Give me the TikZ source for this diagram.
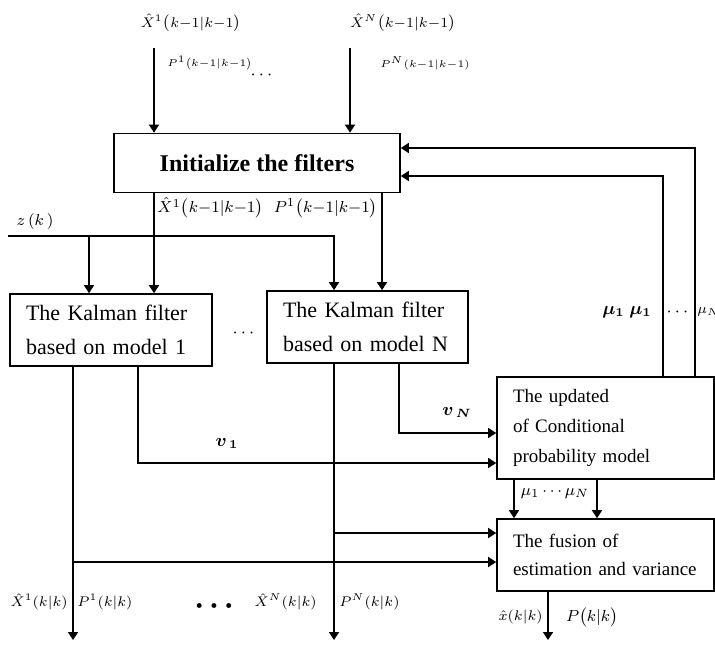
\documentclass[tikz,border=0pt]{standalone}
\usepackage{fontspec}
\setmainfont{Liberation Serif}
\usepackage{amsmath}
\usepackage{bm}
\usepackage{tikz}
\usetikzlibrary{arrows.meta, positioning, calc}
\tikzset{
	blk/.style ={rectangle, draw=black, line width=0.8pt, align=left, inner xsep=8pt, inner ysep=0pt},
	kblk/.style={blk, minimum height=36pt, font=\fontsize{11}{17}\selectfont},
	rblk/.style={blk, text width=92.5pt, font=\fontsize{9.5}{15}\selectfont},
	sig/.style ={-{Triangle[length=4pt, width=5pt]}, line width=0.8pt},
	lab/.style ={font=\scriptsize, inner sep=1pt},
}

\begin{document}
\begin{tikzpicture}[x=0.5pt, y=-0.5pt]
	\useasboundingbox (0,0) rectangle (715,647);
	% blocks
	\node[blk, align=center, minimum width=143pt, minimum height=29.5pt, font=\fontsize{12}{14}\selectfont\bfseries] (init) at (257,163) {Initialize the filters};
	\node[kblk, text width=85pt] (k1) at (111,330) {The Kalman filter\\ based on model 1};
	\node[kblk, text width=84.5pt] (kN) at (367.5,327) {The Kalman filter\\ based on model N};
	\node[rblk, minimum height=51pt] (upd) at (605.5,428) {The updated\\ of Conditional\\ probability model};
	\node[rblk, minimum height=36pt, font=\fontsize{9.5}{14}\selectfont] (fus) at (605.5,555) {The fusion of\\ estimation and variance};
	% points for the wires
	\coordinate (t1) at (154,48);
	\coordinate (tN) at (350,48);
	\coordinate (ib) at (382,0);
	\coordinate (fbo) at (695,148);
	\coordinate (fbi) at (663,176);
	\coordinate (zin) at (8,236);
	\coordinate (za) at (89,236);
	\coordinate (zb) at (334,236);
	\coordinate (o1) at (73,640);
	\coordinate (oN) at (334,640);
	\coordinate (oF) at (548,640);
	\coordinate (v1) at (138,463);
	\coordinate (vN) at (399,433);
	\coordinate (fa) at (334,533);
	\coordinate (fb) at (73,562);
	\coordinate (m1) at (514,0);
	\coordinate (mN) at (597,0);
	% wires
	\draw[sig] (t1) -- (t1 |- init.north);
	\draw[sig] (tN) -- (tN |- init.north);
	\draw[sig] (fbo |- upd.north) -- (fbo) -- (fbo -| init.east);
	\draw[sig] (fbi |- upd.north) -- (fbi) -- (fbi -| init.east);
	\draw[sig] (zin) -- (zb) -- (zb |- kN.north);
	\draw[sig] (za) -- (za |- k1.north);
	\draw[sig] (init.south -| t1) -- (t1 |- k1.north);
	\draw[sig] (init.south -| ib) -- (ib |- kN.north);
	\draw[sig] (o1 |- k1.south) -- (o1);
	\draw[sig] (oN |- kN.south) -- (oN);
	\draw[sig] (v1 |- k1.south) -- (v1) -- (v1 -| upd.west);
	\draw[sig] (vN |- kN.south) -- (vN) -- (vN -| upd.west);
	\draw[sig] (fa) -- (fa -| fus.west);
	\draw[sig] (fb) -- (fb -| fus.west);
	\draw[sig] (upd.south -| m1) -- (m1 |- fus.north);
	\draw[sig] (upd.south -| mN) -- (mN |- fus.north);
	\draw[sig] (fus.south -| oF) -- (oF);
	% labels
	\node[lab] (x1in) at (191,23) {$\hat{X}^{1}\bigl(k{-}1|k{-}1\bigr)$};
	\node[lab, font=\tiny, anchor=west] (p1in) at (165,63) {$P^{1}\bigl(k{-}1|k{-}1\bigr)$};
	\node[lab, font=\small] (tdots) at (263,75) {$\cdots$};
	\node[lab] (xNin) at (403,23) {$\hat{X}^{N}\bigl(k{-}1|k{-}1\bigr)$};
	\node[lab, font=\tiny] (pNin) at (425,63) {$P^{N}(k{-}1|k{-}1)$};
	\node[lab, font=\footnotesize, anchor=west] (xi1) at (155,208) {$\hat{X}^{1}\bigl(k{-}1|k{-}1\bigr)$};
	\node[lab, font=\footnotesize, anchor=east] (pi1) at (380,208) {$P^{1}\bigl(k{-}1|k{-}1\bigr)$};
	\node[lab, font=\footnotesize] (zk) at (35,221) {$z\,(k\,)$};
	\node[lab, font=\small] (kdots) at (245,333) {$\cdots$};
	\node[lab, font=\small\boldmath] (muA) at (627,312) {$\mu_1\ \mu_1$};
	\node[lab, font=\small] (mudots) at (679,312) {$\cdots$};
	\node[lab, anchor=west, inner sep=0pt] (muB) at (697,312) {$\mu_N$};
	\node[lab, font=\small\boldmath] (v1lab) at (227,443) {$v_{\,1}$};
	\node[lab, font=\small\boldmath] (vNlab) at (457,412) {$v_{\,N}$};
	\node[lab, font=\footnotesize] (mulab) at (555,493) {$\mu_1\cdots\mu_N$};
	\node[lab, anchor=east] (x1out) at (70,602) {$\hat{X}^{1}(k|k)$};
	\node[lab, anchor=west] (p1out) at (75,602) {$P^{1}(k|k)$};
	\node[lab, font=\tiny] (bdots) at (214,606) {$\bullet\;\bullet\;\bullet$};
	\node[lab, anchor=east] (xNout) at (319,602) {$\hat{X}^{N}(k|k)$};
	\node[lab, anchor=west] (pNout) at (337,602) {$P^{N}(k|k)$};
	\node[lab, anchor=east] (xout) at (545,617) {$\hat{x}(k|k)$};
	\node[lab, font=\footnotesize] (pout) at (592,617) {$P\bigl(k|k\bigr)$};
\end{tikzpicture}
\end{document}
